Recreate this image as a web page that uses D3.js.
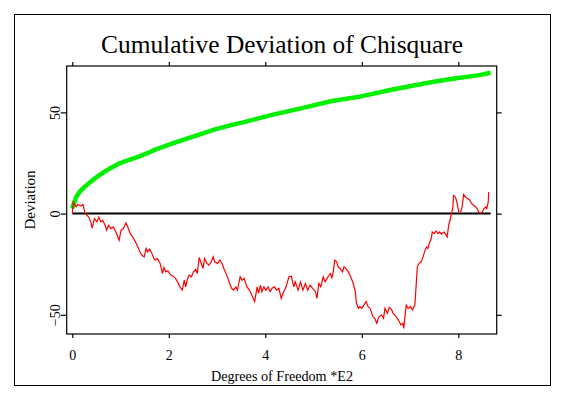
<!DOCTYPE html>
<html><head><meta charset="utf-8">
<script src="https://cdn.jsdelivr.net/npm/d3@7"></script>
<style>body{margin:0;background:#fff}svg{display:block}text{font-family:"Liberation Serif","Times New Roman",serif;fill:#000}</style>
</head><body><svg id="c" width="566" height="399"></svg>
<script>
const title = "Cumulative Deviation of Chisquare";
const xLabel = "Degrees of Freedom *E2";
const yLabel = "Deviation";
const xTicks = [0, 2, 4, 6, 8];
const yTicks = [-50, 0, 50];

// expected (green) curve
const greenX = [0.0,0.02,0.08,0.15,0.25,0.35,0.49,0.63,0.77,0.97,1.18,1.39,1.6,1.72,2.11,2.52,2.94,3.35,3.56,4.14,4.76,5.38,5.96,6.59,7.21,7.58,7.99,8.41,8.67];
const greenY = [2.5,4.1,8.2,10.7,13.1,15.1,17.8,20.1,22.2,24.7,26.6,28.3,30.3,31.6,34.9,38.2,41.5,44.1,45.2,48.8,52.1,55.6,57.8,61.1,63.9,65.5,67.0,68.3,69.6];

// cumulative deviation (red)
const redX = [0,0.02,0.08,0.11,0.18,0.22,0.26,0.28,0.34,0.39,0.41,0.46,0.51,0.55,0.59,0.63,0.68,0.71,0.75,0.80,0.85,0.91,0.97,1.01,1.06,1.11,1.15,1.20,1.25,1.31,1.36,1.40,1.44,1.49,1.53,1.56,1.60,1.65,1.70,1.73,1.76,1.82,1.87,1.90,1.94,1.98,2.04,2.09,2.14,2.19,2.23,2.28,2.32,2.35,2.38,2.42,2.47,2.51,2.56,2.59,2.63,2.66,2.71,2.74,2.79,2.83,2.88,2.92,2.95,3.01,3.06,3.11,3.14,3.20,3.25,3.30,3.34,3.39,3.42,3.45,3.48,3.52,3.56,3.62,3.67,3.72,3.78,3.83,3.86,3.90,3.93,3.97,4.01,4.06,4.10,4.14,4.19,4.23,4.28,4.33,4.38,4.43,4.49,4.54,4.59,4.62,4.68,4.73,4.78,4.83,4.88,4.93,4.98,5.04,5.07,5.11,5.15,5.20,5.24,5.30,5.35,5.38,5.41,5.44,5.48,5.51,5.55,5.60,5.63,5.67,5.72,5.77,5.81,5.86,5.89,5.93,5.96,6.00,6.03,6.09,6.13,6.17,6.23,6.27,6.31,6.36,6.41,6.45,6.48,6.53,6.57,6.62,6.65,6.71,6.76,6.81,6.85,6.87,6.92,6.96,7.01,7.05,7.10,7.12,7.15,7.19,7.23,7.27,7.30,7.34,7.37,7.41,7.44,7.46,7.50,7.54,7.58,7.61,7.65,7.70,7.73,7.77,7.80,7.83,7.85,7.89,7.90,7.94,7.97,8.01,8.05,8.08,8.11,8.15,8.19,8.24,8.28,8.34,8.39,8.42,8.46,8.50,8.53,8.57,8.59,8.62,8.63];
const redY = [0,5.6,3.3,4.6,3.7,4.6,0.8,-0.3,-1.7,-4.8,-7.2,-2.5,-4.1,-1.7,-4.1,-3.3,-5.8,-8.2,-5.8,-7.4,-6.6,-9.4,-13.2,-8.2,-7.4,-4.6,-6.6,-9.9,-11.5,-14.0,-16.5,-18.9,-20.5,-21.4,-17.2,-18.9,-17.6,-19.7,-22.7,-23.0,-22.2,-24.6,-29.6,-26.6,-28.8,-28.3,-30.4,-30.9,-32.0,-34.2,-36.2,-37.8,-32.9,-36.2,-32.9,-30.4,-31.2,-28.8,-27.6,-29.6,-21.7,-23.8,-27.1,-22.2,-24.6,-25.5,-23.8,-21.4,-23.8,-24.6,-23.0,-25.0,-27.1,-30.4,-33.7,-36.9,-37.8,-36.2,-37.8,-34.5,-31.2,-32.9,-32.0,-36.2,-37.8,-40.2,-43.5,-36.2,-39.4,-35.3,-38.6,-36.2,-37.8,-36.2,-38.6,-36.9,-36.2,-37.8,-36.9,-41.9,-38.6,-36.2,-31.2,-30.9,-36.2,-33.7,-37.8,-33.7,-37.8,-34.5,-37.8,-35.3,-36.9,-38.6,-41.9,-34.5,-36.2,-31.2,-33.7,-31.2,-29.6,-31.7,-28.5,-23.0,-23.8,-26.3,-27.1,-28.8,-26.3,-27.1,-28.8,-31.2,-33.7,-37.8,-44.3,-46.8,-46.0,-46.8,-45.7,-43.5,-46.0,-46.8,-50.9,-51.7,-54.2,-50.9,-50.1,-51.7,-46.8,-49.3,-46.3,-47.6,-49.3,-50.9,-52.6,-55.0,-54.2,-56.7,-45.2,-46.8,-46.0,-47.6,-45.2,-37.8,-26.3,-24.6,-23.8,-21.4,-18.9,-16.5,-17.2,-14.0,-12.3,-9.1,-9.9,-8.6,-9.9,-9.1,-10.2,-9.1,-9.9,-11.5,-5.8,-3.3,-0.8,3.3,9.0,8.2,5.7,0.8,0.8,3.3,9.5,8.2,7.4,6.6,4.9,3.6,2.5,0.8,0.3,0.8,2.5,3.3,2.5,5.7,10.6];

const svg = d3.select("#c");
const box = {l: 66.7, r: 496.7, t: 66, b: 334};
const x = d3.scaleLinear().domain([0, 8]).range([72.3, 458.3]);
const y = d3.scaleLinear().domain([-50, 50]).range([314.8, 112.4]);

// outer frame
svg.append("rect").attr("x", 14.5).attr("y", 14.5).attr("width", 536).attr("height", 371)
  .attr("fill", "none").attr("stroke", "#000").attr("stroke-width", 1);

// title
svg.append("text").attr("x", 282).attr("y", 52.5).attr("text-anchor", "middle")
  .attr("font-size", 25).attr("textLength", 362).attr("lengthAdjust", "spacingAndGlyphs").text(title);

// plot box
svg.append("rect").attr("x", box.l).attr("y", box.t).attr("width", box.r - box.l).attr("height", box.b - box.t)
  .attr("fill", "none").attr("stroke", "#000").attr("stroke-width", 1.2);

function styleAxis(g) {
  g.select(".domain").remove();
  g.attr("font-size", 14).attr("font-family", '"Liberation Serif", serif');
  g.selectAll(".tick line").attr("stroke", "#000").attr("stroke-width", 1.2);
  g.selectAll("text").style("font-family", '"Liberation Serif", serif').attr("fill", "#000");
}
// bottom axis
svg.append("g").attr("transform", `translate(0,${box.b})`)
  .call(d3.axisBottom(x).tickValues(xTicks).tickSize(4).tickPadding(12).tickFormat(d3.format("d")))
  .call(styleAxis);
// top axis
svg.append("g").attr("transform", `translate(0,${box.t})`)
  .call(d3.axisTop(x).tickValues(xTicks).tickSize(4).tickFormat(""))
  .call(styleAxis);
// left axis
const la = svg.append("g").attr("transform", `translate(${box.l},0)`)
  .call(d3.axisLeft(y).tickValues(yTicks).tickSize(6).tickFormat(d3.format("d")))
  .call(styleAxis);
la.selectAll(".tick text").attr("text-anchor", "middle")
  .attr("x", null).attr("dy", null)
  .attr("transform", "translate(-7,0) rotate(-90)");
// right axis
svg.append("g").attr("transform", `translate(${box.r},0)`)
  .call(d3.axisRight(y).tickValues(yTicks).tickSize(5).tickFormat(""))
  .call(styleAxis);

// axis labels
svg.append("text").attr("x", 282).attr("y", 381).attr("text-anchor", "middle")
  .attr("font-size", 15).attr("textLength", 142).attr("lengthAdjust", "spacingAndGlyphs").text(xLabel);
svg.append("text").attr("transform", "translate(35,200) rotate(-90)").attr("text-anchor", "middle")
  .attr("font-size", 15).text(yLabel);

// zero line
svg.append("line").attr("x1", x(0)).attr("x2", x(d3.max(redX) + 0.04)).attr("y1", y(0)).attr("y2", y(0))
  .attr("stroke", "#000").attr("stroke-width", 2);

const line = d3.line().x(d => x(d[0])).y(d => y(d[1]));
svg.append("path").datum(greenX.map((v, i) => [v, greenY[i]]))
  .attr("d", line).attr("fill", "none").attr("stroke", "#00f000").attr("stroke-width", 4.5);
svg.append("path").datum(redX.map((v, i) => [v, redY[i]]))
  .attr("d", line).attr("fill", "none").attr("stroke", "#ff0000").attr("stroke-width", 1.2);
</script></body></html>
